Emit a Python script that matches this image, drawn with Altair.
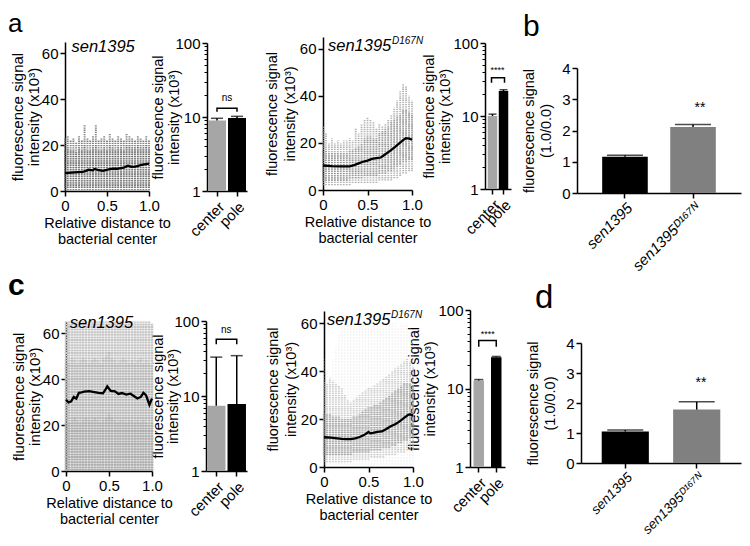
import altair as alt
import pandas as pd

W, H = 734, 530
FONT = "Liberation Sans"

# ---------------- data ----------------
col_x = [0.0, 0.033, 0.067, 0.1, 0.133, 0.167, 0.2, 0.233, 0.267, 0.3, 0.333,
         0.367, 0.4, 0.433, 0.467, 0.5, 0.533, 0.567, 0.6, 0.633, 0.667, 0.7,
         0.733, 0.767, 0.8, 0.833, 0.867, 0.9, 0.933, 0.967, 1.0]

# panel a, sen1395 cloud
a1_out_lo = [0.3, 0.3, 0.3, 0.3, 0.3, 0.3, 0.3, 0.3, 0.3, 0.3, 0.3, 0.3, 0.3, 0.3, 0.3, 0.3,
             0.3, 0.3, 0.3, 0.3, 0.3, 0.3, 0.3, 0.3, 0.3, 0.3, 0.3, 0.3, 0.3, 0.3, 0.3]
a1_out_hi = [23, 24, 22, 23, 21, 24, 22, 29, 23, 22, 24, 29, 22, 23, 24, 22,
             25, 23, 22, 24, 23, 22, 25, 24, 23, 22, 24, 23, 22, 24, 22]
a1_core_lo = [1.5, 1.5, 1.5, 1.5, 1.5, 1.5, 1.5, 1.5, 1.5, 1.5, 1.5, 1.5, 1.5, 1.5, 1.5, 1.5,
              1.5, 1.5, 1.5, 1.5, 1.5, 1.5, 1.5, 1.5, 1.5, 1.5, 1.5, 1.5, 1.5, 1.5, 1.5]
a1_core_hi = [18, 19, 18, 18, 17, 19, 18, 20, 18, 18, 19, 20, 18, 18, 19, 18,
              20, 19, 18, 19, 19, 18, 20, 20, 19, 19, 20, 19, 19, 20, 19]
a1_mean_x = [0, 0.07, 0.15, 0.21, 0.25, 0.28, 0.33, 0.35, 0.39, 0.45, 0.52, 0.57,
             0.62, 0.66, 0.70, 0.75, 0.79, 0.84, 0.90, 0.96, 1.0]
a1_mean_y = [7.8, 8.0, 8.2, 8.3, 8.8, 9.3, 9.0, 9.6, 9.2, 8.8, 9.4, 9.8,
             9.7, 10.0, 10.2, 11.0, 10.5, 10.6, 11.3, 11.7, 11.9]

# panel a, sen1395 D167N cloud
a2_out_lo = [2, 2, 2, 2, 2, 2, 2, 2, 2, 2, 3, 3, 3, 3, 3, 3,
             3, 3, 3, 4, 4, 4, 4, 4, 5, 5, 6, 7, 7, 8, 8]
a2_out_hi = [27, 24, 20, 22, 20, 21, 20, 21, 21, 22, 21, 26, 24, 28, 30, 31,
             30, 29, 26, 28, 27, 28, 30, 32, 35, 38, 42, 45, 44, 40, 38]
a2_core_lo = [4, 4, 4, 4, 4, 4, 4, 4, 4, 5, 5, 5, 5, 5, 6, 6,
              6, 6, 6, 7, 7, 7, 8, 8, 9, 10, 11, 12, 12, 13, 13]
a2_core_hi = [17, 17, 16, 16, 16, 16, 16, 16, 16, 17, 17, 18, 19, 20, 22, 23,
              23, 22, 22, 24, 25, 26, 27, 29, 30, 31, 32, 34, 34, 33, 32]
a2_mean_x = [0, 0.1, 0.2, 0.3, 0.35, 0.4, 0.45, 0.5, 0.55, 0.6, 0.65, 0.7,
             0.75, 0.8, 0.85, 0.9, 0.93, 0.97, 1.0]
a2_mean_y = [10.4, 10.1, 10.0, 10.0, 10.6, 11.3, 12.0, 12.5, 13.2, 13.5, 13.8, 15.2,
             16.5, 18.0, 19.6, 21.2, 22.0, 21.8, 21.4]

# panel c, sen1395 cloud
c1_out_lo = [0, 0, 0, 0, 0, 0, 0, 0, 0, 0, 0, 0, 0, 0, 0, 0,
             0, 0, 0, 0, 0, 0, 0, 0, 0, 0, 0, 0, 0, 0, 0]
c1_out_hi = [65, 65, 65, 65, 65, 65, 65, 65, 65, 65, 65, 65, 65, 65, 65, 65,
             65, 65, 65, 65, 65, 65, 65, 65, 65, 65, 65, 65, 65, 65, 64]
c1_mid_hi = [48, 47, 49, 48, 47, 48, 49, 48, 47, 48, 49, 48, 47, 49, 50, 52,
             49, 48, 47, 48, 49, 48, 47, 48, 47, 48, 49, 47, 48, 47, 46]
c1_core_hi = [22, 21, 22, 23, 22, 21, 22, 23, 22, 22, 23, 22, 21, 22, 23, 25,
              23, 22, 21, 22, 22, 21, 22, 22, 21, 22, 21, 22, 21, 20, 21]
c1_mean_x = [0, 0.03, 0.06, 0.09, 0.12, 0.15, 0.18, 0.21, 0.27, 0.33, 0.38, 0.43,
             0.46, 0.48, 0.52, 0.57, 0.61, 0.65, 0.70, 0.75, 0.78, 0.83, 0.87,
             0.90, 0.93, 0.97, 1.0]
c1_mean_y = [31.0, 29.8, 30.3, 32.2, 31.5, 34.0, 34.2, 34.5, 34.7, 34.3, 34.0, 33.8,
             35.5, 36.8, 34.8, 34.6, 33.5, 33.9, 33.2, 33.6, 32.8, 31.5, 32.2,
             34.0, 33.0, 28.8, 31.5]

# panel c, sen1395 D167N cloud
c2_sp_lo = [1, 1, 1, 1, 1, 1, 1, 1, 1, 1, 1, 1, 1, 1, 1, 1,
            1, 1, 1, 1, 1, 1, 1, 1, 1, 1, 1, 1, 1, 1, 1]
c2_sp_hi = [45, 40, 38, 45, 50, 55, 58, 60, 60, 60, 60, 58, 60, 60, 60, 60,
            58, 60, 60, 60, 58, 60, 60, 60, 60, 58, 60, 60, 60, 58, 55]
c2_mid_lo = [2, 2, 2, 2, 2, 2, 2, 2, 2, 2, 3, 3, 3, 3, 3, 3,
             4, 4, 4, 4, 4, 5, 5, 5, 5, 6, 6, 6, 7, 7, 7]
c2_mid_hi = [36, 35, 37, 36, 35, 34, 33, 30, 28, 27, 28, 29, 30, 31, 32, 33,
             33, 34, 35, 36, 37, 38, 39, 40, 41, 42, 43, 44, 45, 44, 42]
c2_core_lo = [5, 5, 5, 5, 5, 5, 5, 5, 5, 5, 6, 6, 6, 6, 6, 6,
              7, 7, 7, 7, 8, 8, 8, 9, 9, 10, 10, 11, 11, 12, 12]
c2_core_hi = [22, 22, 22, 21, 21, 21, 20, 20, 20, 20, 21, 21, 22, 23, 24, 25,
              25, 26, 26, 27, 28, 29, 30, 31, 32, 33, 34, 35, 35, 35, 34]
c2_mean_x = [0, 0.05, 0.1, 0.15, 0.2, 0.25, 0.3, 0.35, 0.4, 0.45, 0.5, 0.52,
             0.55, 0.6, 0.65, 0.7, 0.75, 0.8, 0.85, 0.9, 0.95, 0.97, 1.0]
c2_mean_y = [12.4, 12.3, 12.1, 11.9, 11.7, 11.6, 11.6, 11.9, 12.5, 13.3, 14.6, 14.0,
             14.2, 14.6, 14.8, 15.8, 17.0, 17.8, 19.0, 20.5, 21.8, 21.9, 21.4]

# center / pole bars (log scale)
bar_cats = ["center", "pole"]
bar_colors = ["#a6a6a6", "#000000"]
a1_bar = [9.0, 9.7]
a1_err = [0.6, 0.5]
a2_bar = [10.0, 22.0]
a2_err = [0.6, 0.9]
c1_bar = [7.4, 7.8]
c1_err = [25.6, 26.7]
c2_bar = [12.6, 25.0]
c2_err = [0.4, 0.6]
minor_ticks = [2, 3, 4, 5, 6, 7, 8, 9, 20, 30, 40, 50, 60, 70, 80, 90]

# ratio bars
ratio_cats = ["sen1395", "sen1395\u1d30\u00b9\u2076\u2077\u1d3a"]
ratio_colors = ["#000000", "#808080"]
b_ratio = [1.16, 2.11]
b_err = [0.05, 0.08]
d_ratio = [1.05, 1.78]
d_err = [0.05, 0.26]

Y_TITLE = ["fluorescence signal", "intensity (x10\u00b3)"]

layers = []


def scatter(xr, yr, bands, mx, my, tx, ty, sup, tfs, tlh, tpad):
    xs = alt.Scale(domain=[0, 1], range=xr, nice=False, zero=False)
    ys = alt.Scale(domain=[0, 65], range=yr, nice=False, zero=False)
    out = []
    for lo, hi, color, op, sw, dash in bands:
        df = pd.DataFrame({"x": col_x, "lo": lo, "hi": hi})
        out.append(alt.Chart(df).mark_rule(color=color, opacity=op, strokeWidth=sw,
                                           strokeDash=dash).encode(
            x=alt.X("x:Q", scale=xs, axis=None),
            y=alt.Y("lo:Q", scale=ys, axis=None),
            y2="hi:Q"))
    df = pd.DataFrame({"x": mx, "y": my})
    out.append(alt.Chart(df).mark_line(color="black", strokeWidth=2.3).encode(
        x=alt.X("x:Q", scale=xs, axis=alt.Axis(
            orient="bottom", offset=yr[0] - H, values=[0, 0.5, 1],
            labelExpr="datum.value == 0 ? '0' : format(datum.value, '.1f')",
            labelFlush=False, title=["Relative distance to", "bacterial center"],
            titleLineHeight=16)),
        y=alt.Y("y:Q", scale=ys, axis=alt.Axis(
            orient="left", offset=-xr[0], values=[0, 20, 40, 60],
            title=Y_TITLE, titleLineHeight=tlh, titleFontSize=tfs,
            titlePadding=tpad))))
    tdf = pd.DataFrame({"x": [tx], "y": [ty], "t": ["sen1395"]})
    out.append(alt.Chart(tdf).mark_text(font=FONT, fontSize=16.5, fontStyle="italic",
                                        align="left", baseline="alphabetic").encode(
        x=alt.X("x:Q", scale=xs, axis=None), y=alt.Y("y:Q", scale=ys, axis=None),
        text="t:N"))
    if sup:
        sdf = pd.DataFrame({"x": [tx], "y": [ty], "t": ["D167N"]})
        out.append(alt.Chart(sdf).mark_text(font=FONT, fontSize=10, fontStyle="italic",
                                            align="left", baseline="alphabetic",
                                            dx=64, dy=-7).encode(
            x=alt.X("x:Q", scale=xs, axis=None), y=alt.Y("y:Q", scale=ys, axis=None),
            text="t:N"))
    return out


def logbars(xr, yr, vals, errs, pi, po, capw, feet, br, stars, star_y, star_dx,
            star_size, tpad, tlh):
    xs = alt.Scale(domain=bar_cats, range=xr, paddingInner=pi, paddingOuter=po)
    ys = alt.Scale(type="log", domain=[1, 100], range=yr, nice=False)
    df = pd.DataFrame({"cat": bar_cats, "v": vals,
                       "top": [v + e for v, e in zip(vals, errs)],
                       "base": [1, 1], "c": bar_colors})

    def X(axis=None):
        return alt.X("cat:N", scale=xs, sort=bar_cats, axis=axis)

    out = []
    out.append(alt.Chart(df).mark_bar().encode(
        x=X(alt.Axis(orient="bottom", offset=yr[0] - H, labelAngle=-45,
                     labelAlign="right", labelBaseline="top", title=None,
                     labelPadding=3)),
        y=alt.Y("v:Q", scale=ys, axis=alt.Axis(
            orient="left", offset=-xr[0], values=[1, 10, 100], format="d",
            title=Y_TITLE, titleLineHeight=tlh, titlePadding=tpad)),
        y2="base:Q",
        color=alt.Color("c:N", scale=None)))
    out.append(alt.Chart(df).mark_rule(color="black", strokeWidth=1.5).encode(
        x=X(),
        y=alt.Y("v:Q", scale=ys, axis=alt.Axis(
            orient="left", offset=-xr[0], values=minor_ticks, labels=False,
            domain=False, tickSize=3, tickWidth=1, title=None)),
        y2="top:Q"))
    out.append(alt.Chart(df).mark_tick(color="black", thickness=1.5, size=capw).encode(
        x=X(), y=alt.Y("top:Q", scale=ys, axis=None)))
    bdf = pd.DataFrame({"cat": ["center", "center", "pole", "pole"],
                        "y": [feet, br, br, feet], "o": [0, 1, 2, 3]})
    out.append(alt.Chart(bdf).mark_line(color="black", strokeWidth=1.5).encode(
        x=X(), y=alt.Y("y:Q", scale=ys, axis=None), order="o:Q"))
    sdf = pd.DataFrame({"cat": ["center"], "y": [star_y], "t": [stars]})
    out.append(alt.Chart(sdf).mark_text(font=FONT, fontSize=star_size, dx=star_dx,
                                        baseline="middle").encode(
        x=X(), y=alt.Y("y:Q", scale=ys, axis=None), text="t:N"))
    return out


def ratio(xr, yr, vals, errs, pi, po, capw, star_y, lfs):
    xs = alt.Scale(domain=ratio_cats, range=xr, paddingInner=pi, paddingOuter=po)
    ys = alt.Scale(domain=[0, 4], range=yr, nice=False, zero=True)
    df = pd.DataFrame({"cat": ratio_cats, "v": vals,
                       "top": [v + e for v, e in zip(vals, errs)],
                       "c": ratio_colors})

    def X(axis=None):
        return alt.X("cat:N", scale=xs, sort=ratio_cats, axis=axis)

    out = []
    out.append(alt.Chart(df).mark_bar().encode(
        x=X(alt.Axis(orient="bottom", offset=yr[0] - H, labelAngle=-45,
                     labelAlign="right", labelBaseline="top", title=None,
                     labelFontStyle="italic", labelPadding=2, labelFontSize=lfs)),
        y=alt.Y("v:Q", scale=ys, axis=alt.Axis(
            orient="left", offset=-xr[0], values=[0, 1, 2, 3, 4],
            title=["fluorescence signal", "(1.0/0.0)"], titleLineHeight=17.5,
            titlePadding=8)),
        color=alt.Color("c:N", scale=None)))
    out.append(alt.Chart(df).mark_rule(color="black", strokeWidth=1.5).encode(
        x=X(), y=alt.Y("v:Q", scale=ys, axis=None), y2="top:Q"))
    out.append(alt.Chart(df).mark_tick(color="black", thickness=1.5, size=capw).encode(
        x=X(), y=alt.Y("top:Q", scale=ys, axis=None)))
    sdf = pd.DataFrame({"cat": [ratio_cats[1]], "y": [star_y], "t": ["**"]})
    out.append(alt.Chart(sdf).mark_text(font=FONT, fontSize=14, baseline="middle").encode(
        x=X(), y=alt.Y("y:Q", scale=ys, axis=None), text="t:N"))
    return out


def letter(t, x, y, size, weight="normal"):
    df = pd.DataFrame({"t": [t]})
    return alt.Chart(df).mark_text(font=FONT, fontSize=size, fontWeight=weight,
                                   align="left", baseline="alphabetic").encode(
        x=alt.value(x), y=alt.value(y), text="t:N")


DOT = [1.3, 0.9]
DOT_C = [2, 0.6]

# row 1
layers += scatter([57, 141], [183, 34],
                  [(a1_out_lo, a1_out_hi, "#6e6e6e", 0.85, 1.9, DOT),
                   (a1_core_lo, a1_core_hi, "#444444", 0.4, 1.9, DOT)],
                  a1_mean_x, a1_mean_y, 0.077, 60.6, False, 15, 16, 0)
layers += logbars([199, 239], [183, 35], a1_bar, a1_err, 0.1, 0.05, 12,
                  11.8, 13.1, "ns", 18, 10, 10, -7, 16)
layers += scatter([315, 404], [182, 29],
                  [(a2_out_lo, a2_out_hi, "#a0a0a0", 0.8, 1.8, DOT),
                   (a2_core_lo, a2_core_hi, "#6a6a6a", 0.45, 1.8, DOT)],
                  a2_mean_x, a2_mean_y, 0.056, 59, True, 14.5, 17.5, 2)
layers += logbars([477, 503], [181, 35], a2_bar, a2_err, 0.14, 0.25, 8,
                  28.5, 33.4, "****", 43, 6, 9, 0, 16)
layers += ratio([569, 733], [185, 60], b_ratio, b_err, 0.33, 0.37, 36, 2.72, 15)

# row 2
layers += scatter([58, 144], [463, 313.5],
                  [(c1_out_lo, c1_out_hi, "#c4c4c4", 1.0, 2.5, DOT_C),
                   (c1_out_lo, c1_mid_hi, "#9a9a9a", 0.3, 2.5, DOT_C),
                   (c1_out_lo, c1_core_hi, "#8a8a8a", 0.25, 2.5, DOT_C)],
                  c1_mean_x, c1_mean_y, 0.044, 62, False, 15, 16, 0)
layers += logbars([198, 239], [463, 313], c1_bar, c1_err, 0.1, 0.05, 12,
                  49, 57, "ns", 76, 10, 10, -7, 15)
layers += scatter([316, 405], [459, 303],
                  [(c2_sp_lo, c2_sp_hi, "#d8d8d8", 0.6, 1.3, [1.2, 1.8]),
                   (c2_mid_lo, c2_mid_hi, "#b0b0b0", 0.6, 2.0, DOT),
                   (c2_core_lo, c2_core_hi, "#8c8c8c", 0.6, 2.4, DOT)],
                  c2_mean_x, c2_mean_y, 0.034, 59, True, 14.5, 17.5, 2)
layers += logbars([462, 497], [459, 302], c2_bar, c2_err, 0.4, 0.2, 9,
                  34, 40.8, "****", 49, 9, 9, 0, 16)
layers += ratio([573, 733], [455, 335], d_ratio, d_err, 0.34, 0.29, 36, 2.67, 13.5)

layers += [letter("a", 0, 24, 26), letter("b", 515, 28, 30),
           letter("c", 0, 287, 30, "bold"), letter("d", 527, 300, 33)]

chart = alt.layer(*layers).resolve_scale(
    x="independent", y="independent"
).properties(
    width=W, height=H, padding=0, autosize=alt.AutoSizeParams(type="none")
).configure_view(stroke=None).configure_axis(
    domainColor="black", domainWidth=1.5, tickColor="black", tickWidth=1.5,
    tickSize=5, labelColor="black", titleColor="black", labelFont=FONT,
    labelFontSize=15, titleFont=FONT, titleFontSize=14.5, titleFontWeight="normal",
    grid=False, labelPadding=2, titlePadding=3
)

chart.save("out.html", embed_options={"renderer": "svg", "actions": False})
